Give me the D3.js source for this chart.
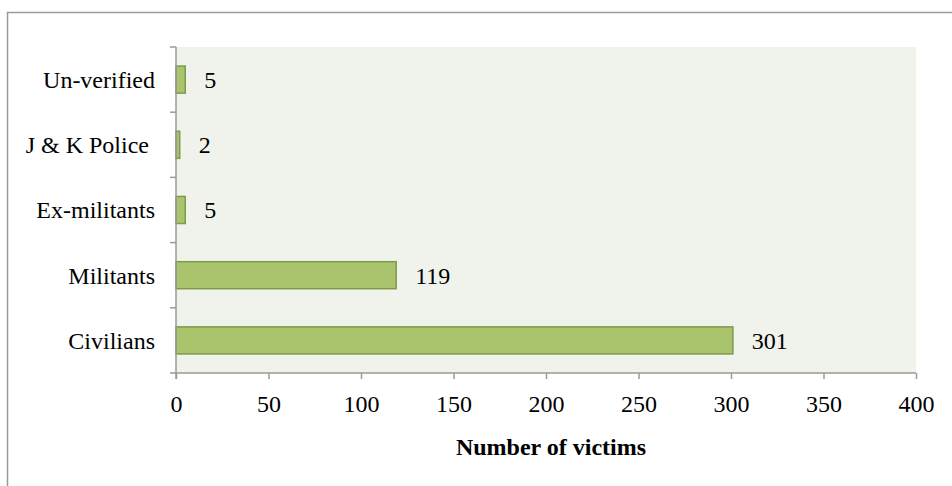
<!DOCTYPE html>
<html>
<head>
<meta charset="utf-8">
<script src="https://cdn.jsdelivr.net/npm/d3@7"></script>
<style>
  html, body { margin: 0; padding: 0; background: #fff; }
  svg { display: block; }
  text { font-family: "Liberation Serif", "Times New Roman", serif; fill: #000; }
</style>
</head>
<body>
<svg id="chart" width="952" height="486"></svg>
<script>
const categories = ["Un-verified", "J & K Police ", "Ex-militants", "Militants", "Civilians"];
const values = [5, 2, 5, 119, 301];
const xTicks = [0, 50, 100, 150, 200, 250, 300, 350, 400];
const xTitle = "Number of victims";

const W = 952, H = 486;
const FS = 24;
const plot = { left: 176, right: 916, top: 47, bottom: 373 };
const svg = d3.select("#chart");

// outer chart border (extends beyond the visible frame on right/bottom)
svg.append("rect")
  .attr("x", 7.5).attr("y", 12.5)
  .attr("width", W).attr("height", H)
  .attr("fill", "#fff").attr("stroke", "#9a9a9a").attr("stroke-width", 1.5);

const x = d3.scaleLinear().domain([0, 400]).range([plot.left, plot.right]);
const y = d3.scaleBand().domain(categories).range([plot.top, plot.bottom])
  .paddingInner(0.585).paddingOuter(0.2925);

// plot background
svg.append("rect")
  .attr("x", plot.left).attr("y", plot.top)
  .attr("width", plot.right - plot.left).attr("height", plot.bottom - plot.top)
  .attr("fill", "#f0f3ec");

// bars
svg.append("g").selectAll("rect").data(values).join("rect")
  .attr("x", x(0))
  .attr("y", (d, i) => y(categories[i]))
  .attr("width", d => x(d) - x(0))
  .attr("height", y.bandwidth())
  .attr("fill", "#a9c46c")
  .attr("stroke", "#7f9a48")
  .attr("stroke-width", 1.5);

// value labels
svg.append("g").selectAll("text").data(values).join("text")
  .attr("x", d => x(d) + 19)
  .attr("y", (d, i) => y(categories[i]) + y.bandwidth() / 2)
  .attr("dy", "0.35em")
  .attr("font-size", FS)
  .text(d => d);

// x axis
const xAxis = d3.axisBottom(x).tickValues(xTicks).tickSize(6).tickPadding(16).tickFormat(d3.format("d"));
const gx = svg.append("g").attr("transform", `translate(0,${plot.bottom})`).call(xAxis);
gx.select(".domain").attr("stroke", "#9a9a9a").attr("stroke-width", 1.5).attr("d", `M${plot.left},0H${plot.right}`);
gx.selectAll(".tick line").attr("stroke", "#9a9a9a").attr("stroke-width", 1.5);
gx.selectAll(".tick text").attr("font-size", FS).attr("font-family", "Liberation Serif").attr("fill", "#000");

// y axis with ticks at band boundaries
const gy = svg.append("g").attr("transform", `translate(${plot.left},0)`);
gy.append("line").attr("x1", 0).attr("x2", 0).attr("y1", plot.top).attr("y2", plot.bottom + 6)
  .attr("stroke", "#9a9a9a").attr("stroke-width", 1.5);
const bounds = categories.map(c => y(c) - y.step() * y.paddingInner() / 2).concat([plot.bottom]);
gy.selectAll("line.t").data(bounds).join("line").attr("class", "t")
  .attr("x1", -6).attr("x2", 0).attr("y1", d => d).attr("y2", d => d)
  .attr("stroke", "#9a9a9a").attr("stroke-width", 1.5);
gy.selectAll("text").data(categories).join("text")
  .attr("x", -21)
  .attr("y", d => y(d) + y.bandwidth() / 2)
  .attr("dy", "0.35em")
  .attr("text-anchor", "end")
  .attr("font-size", FS)
  .style("white-space", "pre")
  .text(d => d);

// axis title
svg.append("text")
  .attr("x", (plot.left + plot.right) / 2 + 5)
  .attr("y", 455)
  .attr("text-anchor", "middle")
  .attr("font-size", FS)
  .attr("font-weight", "bold")
  .text(xTitle);
</script>
</body>
</html>
